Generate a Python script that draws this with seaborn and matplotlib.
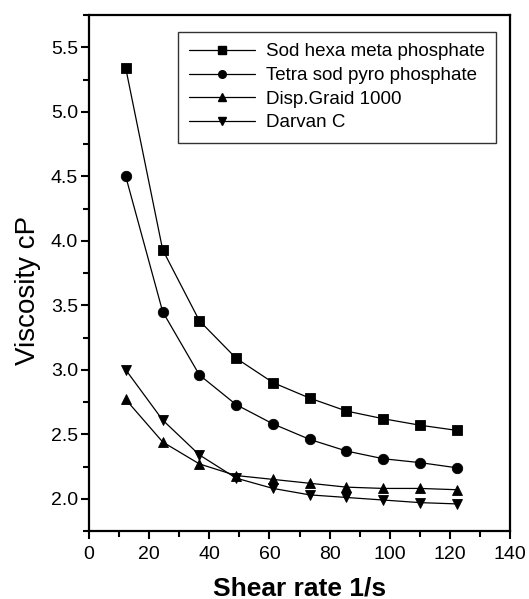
import matplotlib
matplotlib.use("Agg")
import matplotlib.pyplot as plt
import seaborn as sns
import pandas as pd
from matplotlib.ticker import MultipleLocator, FormatStrFormatter
from matplotlib.lines import Line2D

shear_rate = [12.2, 24.5, 36.7, 48.9, 61.2, 73.4, 85.6, 97.9, 110.1, 122.3]
sod_hexa = [5.34, 3.93, 3.38, 3.09, 2.90, 2.78, 2.68, 2.62, 2.57, 2.53]
tetra_sod = [4.50, 3.45, 2.96, 2.73, 2.58, 2.46, 2.37, 2.31, 2.28, 2.24]
disp_graid = [2.77, 2.44, 2.27, 2.18, 2.15, 2.12, 2.09, 2.08, 2.08, 2.07]
darvan_c = [3.00, 2.61, 2.34, 2.16, 2.08, 2.03, 2.01, 1.99, 1.97, 1.96]
series_names = ["Sod hexa meta phosphate", "Tetra sod pyro phosphate",
                "Disp.Graid 1000", "Darvan C"]

sns.set_style("ticks")
plt.rcParams['font.family'] = ['Liberation Sans', 'DejaVu Sans']
plt.rcParams['text.color'] = 'black'
plt.rcParams['axes.labelcolor'] = 'black'
plt.rcParams['xtick.color'] = 'black'
plt.rcParams['ytick.color'] = 'black'

rows = []
for name, vals in zip(series_names, [sod_hexa, tetra_sod, disp_graid, darvan_c]):
    for x, y in zip(shear_rate, vals):
        rows.append({"x": x, "y": y, "series": name})
df = pd.DataFrame(rows)

fig = plt.figure(figsize=(5.29, 5.99), dpi=100)
ax = fig.add_axes([89/529, 1-531/599, (510-89)/529, (531-15)/599])

markers = {series_names[0]: "s", series_names[1]: "o",
           series_names[2]: "^", series_names[3]: "v"}
palette = {n: "black" for n in series_names}
sns.lineplot(data=df, x="x", y="y", hue="series", style="series",
             markers=markers, dashes=False, palette=palette,
             linewidth=0.9, markersize=7.5, markeredgecolor="black",
             markeredgewidth=0.6, ax=ax, legend=False)

ax.set_xlim(0, 140)
ax.set_ylim(1.75, 5.75)
ax.xaxis.set_major_locator(MultipleLocator(20))
ax.xaxis.set_minor_locator(MultipleLocator(10))
ax.yaxis.set_major_locator(MultipleLocator(0.5))
ax.yaxis.set_minor_locator(MultipleLocator(0.25))
ax.yaxis.set_major_formatter(FormatStrFormatter("%.1f"))
ax.tick_params(axis="x", which="major", direction="out", length=6, width=1.5,
               labelsize=14, pad=5)
ax.tick_params(axis="y", which="major", direction="out", length=6, width=1.5,
               labelsize=14, pad=2)
ax.tick_params(which="minor", direction="out", length=4, width=1.5)
for s in ax.spines.values():
    s.set_visible(True)
    s.set_linewidth(1.6)
    s.set_color("black")

ax.set_xlabel("Shear rate 1/s", fontsize=19, fontweight="bold")
ax.xaxis.set_label_coords(0.5, -0.088)
ax.set_ylabel("Viscosity cP", fontsize=20)
ax.yaxis.set_label_coords(-0.145, 0.467)
ax.yaxis.label.set_va("center")

handles = [Line2D([], [], color="black", lw=0.9, marker=markers[n], markersize=5.5)
           for n in series_names]
leg = ax.legend(handles, series_names, loc="upper right", bbox_to_anchor=(0.967, 0.967),
                fontsize=13.5, frameon=True, fancybox=False, edgecolor="black",
                handlelength=3.5, handletextpad=0.6, labelspacing=0.35,
                borderpad=0.6, borderaxespad=0)
leg.get_frame().set_linewidth(1.0)

fig.savefig("out.png", dpi=100)
